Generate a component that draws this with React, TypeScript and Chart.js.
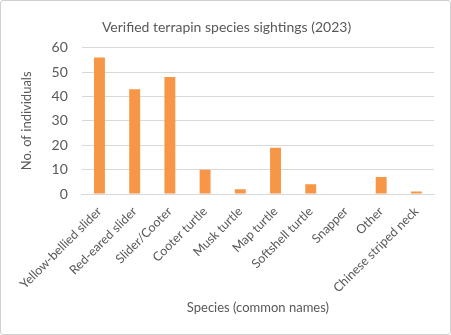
import React, { useEffect, useRef } from "react";
import { Chart, registerables } from "chart.js";

Chart.register(...registerables);

const categories = [
  "Yellow-bellied slider",
  "Red-eared slider",
  "Slider/Cooter",
  "Cooter turtle",
  "Musk turtle",
  "Map turtle",
  "Softshell turtle",
  "Snapper",
  "Other",
  "Chinese striped neck",
];
const sightings = [56, 43, 48, 10, 2, 19, 4, 0, 7, 1];
const yTicksMax = 60;
const yTickStep = 10;

const titleText = "Verified terrapin species sightings (2023)";
const xTitle = "Species (common names)";
const yTitle = "No. of individuals";

export default function App() {
  const ref = useRef<HTMLCanvasElement>(null);
  useEffect(() => {
    if (!ref.current) return;
    const font = "Lato, 'Open Sans', sans-serif";
    const gray = "#595959";
    const chart = new Chart(ref.current, {
      type: "bar",
      data: {
        labels: categories,
        datasets: [
          {
            data: sightings,
            backgroundColor: "#F79646",
            barPercentage: 0.31,
            categoryPercentage: 1,
          },
        ],
      },
      options: {
        animation: false,
        responsive: false,
        layout: { padding: { left: 18, right: 16, top: 12, bottom: 18 } },
        plugins: {
          legend: { display: false },
          tooltip: { enabled: false },
          title: {
            display: true,
            text: titleText,
            color: gray,
            font: { family: font, size: 14, weight: "normal" },
            padding: { top: 6, bottom: 12 },
          },
        },
        scales: {
          x: {
            grid: { display: false },
            border: { display: true, color: "#D9D9D9" },
            ticks: {
              color: gray,
              font: { family: font, size: 12.5 },
              maxRotation: 45,
              minRotation: 45,
              autoSkip: false,
              padding: 2,
            },
            title: {
              display: true,
              text: xTitle,
              color: gray,
              font: { family: font, size: 13 },
              padding: { top: 3, bottom: 0 },
            },
          },
          y: {
            min: 0,
            max: yTicksMax,
            grid: { color: "#D9D9D9", drawTicks: false },
            border: { display: false },
            ticks: {
              stepSize: yTickStep,
              color: gray,
              font: { family: font, size: 14 },
              padding: 14,
            },
            title: {
              display: true,
              text: yTitle,
              color: gray,
              font: { family: font, size: 13 },
              padding: { top: 0, bottom: 3 },
            },
          },
        },
      },
    });
    return () => chart.destroy();
  }, []);
  return (
    <div
      style={{
        position: "fixed",
        left: 0,
        top: 0,
        width: 451,
        height: 335,
        boxSizing: "border-box",
        border: "1px solid #D0D0D0",
        borderRadius: 3,
        background: "#fff",
      }}
    >
      <canvas ref={ref} width={449} height={333} />
    </div>
  );
}
